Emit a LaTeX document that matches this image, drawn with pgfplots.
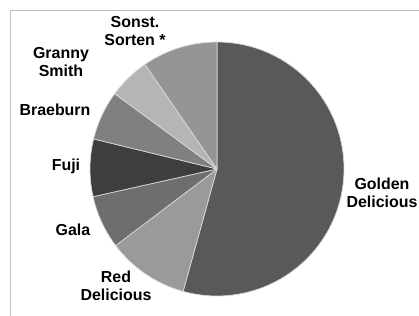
\documentclass[border=0pt]{standalone}
\usepackage{pgfplots}
\usepackage{pgfplotstable}
\pgfplotsset{compat=1.18}
\usepackage{fontspec}
\setmainfont{Liberation Sans}

\definecolor{cGolden}{HTML}{595959}
\definecolor{cRed}{HTML}{9A9A9A}
\definecolor{cGala}{HTML}{6E6E6E}
\definecolor{cFuji}{HTML}{3E3E3E}
\definecolor{cBrae}{HTML}{808080}
\definecolor{cGranny}{HTML}{B5B5B5}
\definecolor{cSonst}{HTML}{959595}

% share in percent, clockwise from 12 o'clock
\pgfplotstableread{
share col
54.3 cGolden
10.4 cRed
6.8  cGala
7.3  cFuji
6.3  cBrae
5.3  cGranny
9.6  cSonst
}\piedata

\begin{document}
\begin{tikzpicture}
\useasboundingbox (0,0) rectangle (419bp,316bp);
\draw[color=black!25, line width=0.8pt] (10bp,0) -- (10bp,306bp) -- (419bp,306bp);
\begin{axis}[
  at={(0,0)}, anchor=south west,
  x=1bp, y=1bp,
  xmin=-217, xmax=202, ymin=-147, ymax=169,
  enlargelimits=false,
  hide axis,
  clip=false,
]
\pgfplotsextra{
  \pgfplotstablegetrowsof{\piedata}
  \pgfmathtruncatemacro\lastrow{\pgfplotsretval-1}
  \gdef\curang{90}
  \foreach \i in {0,...,\lastrow}{
    \pgfplotstablegetelem{\i}{share}\of\piedata
    \let\sliceval\pgfplotsretval
    \pgfplotstablegetelem{\i}{col}\of\piedata
    \let\slicecol\pgfplotsretval
    \pgfmathsetmacro\nxtang{\curang-3.6*\sliceval}
    \fill[fill=\slicecol, draw=black!15, line width=0.7pt, line join=round]
      (axis cs:0,0) -- ++(\curang:127bp)
      arc[start angle=\curang, end angle=\nxtang, radius=127bp] -- cycle;
    \xdef\curang{\nxtang}
  }
}
\begin{scope}[every node/.style={font=\fontsize{16}{17.5}\selectfont\bfseries, align=center, inner sep=0pt}]
\node at (axis cs:-82,138) {Sonst.\\Sorten *};
\node at (axis cs:-156,107) {Granny\\Smith};
\node at (axis cs:-162,59) {Braeburn};
\node at (axis cs:-151,3) {Fuji};
\node at (axis cs:-144,-61) {Gala};
\node at (axis cs:-101,-117) {Red\\Delicious};
\node at (axis cs:165,-24) {Golden\\Delicious};
\end{scope}
\end{axis}
\end{tikzpicture}
\end{document}
